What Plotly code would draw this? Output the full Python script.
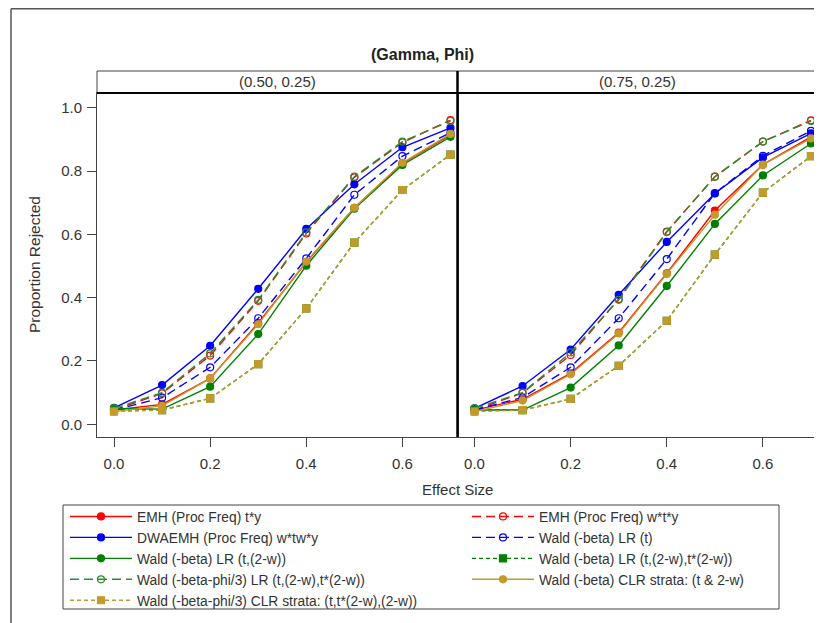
import plotly.graph_objects as go

# ---------------- data ----------------
effect_size = [0.0, 0.1, 0.2, 0.3, 0.4, 0.5, 0.6, 0.7]
panel_labels = ["(0.50, 0.25)", "(0.75, 0.25)"]
y_ticks = [0.0, 0.2, 0.4, 0.6, 0.8, 1.0]
x_ticks = [0.0, 0.2, 0.4, 0.6]

series_names = [
    "EMH (Proc Freq) t*y",
    "EMH (Proc Freq) w*t*y",
    "DWAEMH (Proc Freq) w*tw*y",
    "Wald (-beta) LR (t)",
    "Wald (-beta) LR (t,(2-w))",
    "Wald (-beta) LR (t,(2-w),t*(2-w))",
    "Wald (-beta-phi/3) LR (t,(2-w),t*(2-w))",
    "Wald (-beta) CLR strata: (t & 2-w)",
    "Wald (-beta-phi/3) CLR strata: (t,t*(2-w),(2-w))",
]
# legend column of each series (left / right column of the legend box)
legend_column = [1, 2, 1, 2, 1, 2, 1, 2, 1]

# left panel (0.50, 0.25)
emh_ty_L    = [0.045, 0.063, 0.145, 0.320, 0.512, 0.684, 0.824, 0.914]
emh_wty_L   = [0.045, 0.098, 0.217, 0.390, 0.603, 0.780, 0.890, 0.961]
dwaemh_L    = [0.052, 0.124, 0.248, 0.428, 0.617, 0.758, 0.875, 0.936]
wald_t_L    = [0.045, 0.084, 0.180, 0.335, 0.524, 0.725, 0.847, 0.921]
wald_t2w_L  = [0.050, 0.048, 0.119, 0.285, 0.501, 0.681, 0.819, 0.908]
wald_t2wt_L = [0.045, 0.045, 0.082, 0.190, 0.366, 0.574, 0.740, 0.852]
phi_lr_L    = [0.050, 0.100, 0.224, 0.393, 0.606, 0.782, 0.893, 0.958]
clr_L       = [0.040, 0.058, 0.145, 0.316, 0.514, 0.684, 0.826, 0.917]
phi_clr_L   = [0.040, 0.045, 0.082, 0.190, 0.366, 0.574, 0.740, 0.852]

# right panel (0.75, 0.25)
emh_ty_R    = [0.045, 0.079, 0.161, 0.290, 0.477, 0.675, 0.820, 0.908]
emh_wty_R   = [0.045, 0.099, 0.219, 0.396, 0.609, 0.782, 0.893, 0.960]
dwaemh_R    = [0.050, 0.121, 0.236, 0.409, 0.576, 0.729, 0.843, 0.919]
wald_t_R    = [0.045, 0.085, 0.180, 0.335, 0.522, 0.730, 0.848, 0.927]
wald_t2w_R  = [0.045, 0.045, 0.116, 0.249, 0.437, 0.633, 0.786, 0.887]
wald_t2wt_R = [0.045, 0.045, 0.080, 0.185, 0.327, 0.536, 0.732, 0.847]
phi_lr_R    = [0.050, 0.100, 0.227, 0.393, 0.607, 0.782, 0.893, 0.958]
clr_R       = [0.040, 0.075, 0.158, 0.287, 0.475, 0.662, 0.820, 0.903]
phi_clr_R   = [0.040, 0.045, 0.080, 0.185, 0.327, 0.536, 0.732, 0.847]

left_values = [emh_ty_L, emh_wty_L, dwaemh_L, wald_t_L, wald_t2w_L,
               wald_t2wt_L, phi_lr_L, clr_L, phi_clr_L]
right_values = [emh_ty_R, emh_wty_R, dwaemh_R, wald_t_R, wald_t2w_R,
                wald_t2wt_R, phi_lr_R, clr_R, phi_clr_R]

# ---------------- styles ----------------
RED, BLUE, GREEN, GREEN2, GOLD = "#ff0000", "#0000ff", "#008000", "#2e8b2e", "#c49a2c"
LONG = "9px,5px"
SHORT = "4px,3px"
styles = [
    dict(color=RED, dash="solid", symbol="circle"),
    dict(color=RED, dash=LONG, symbol="circle-open"),
    dict(color=BLUE, dash="solid", symbol="circle"),
    dict(color=BLUE, dash=LONG, symbol="circle-open"),
    dict(color=GREEN, dash="solid", symbol="circle"),
    dict(color=GREEN, dash=SHORT, symbol="square"),
    dict(color=GREEN2, dash=LONG, symbol="circle-open"),
    dict(color=GOLD, dash="solid", symbol="circle"),
    dict(color=GOLD, dash=SHORT, symbol="square"),
]

FONT = "Liberation Sans, Arial, sans-serif"
TXT = "#333333"

fig = go.Figure()
for panel, vals_list in enumerate([left_values, right_values]):
    xa = "x" if panel == 0 else "x2"
    ya = "y" if panel == 0 else "y2"
    for name, vals, st, col in zip(series_names, vals_list, styles, legend_column):
        fig.add_trace(go.Scatter(
            x=effect_size, y=vals, name=name, mode="lines+markers",
            xaxis=xa, yaxis=ya, showlegend=(panel == 0),
            legend="legend" if col == 1 else "legend2",
            line=dict(color=st["color"], dash=st["dash"], width=1.4),
            marker=dict(symbol=st["symbol"], size=7, color=st["color"],
                        line=dict(color=st["color"], width=1.2)),
        ))

# geometry: page pixels; the figure sits at page offset (8, 8) due to body margin
OFF = 8
W, H = 822 - OFF, 623 - OFF
L = 97 - OFF
R = W - (818 - OFF)
T = 71 - OFF
B = H - (437 - OFF)
pw, ph = W - L - R, H - T - B
def px_x(p):
    return (p - OFF - L) / pw
def px_y(p):
    return (H - B - (p - OFF)) / ph

ytop = px_y(93)
split = px_x(457.5)

axis_common = dict(showgrid=False, zeroline=False, showline=True, linecolor="#444444",
                   linewidth=1, mirror=True, ticks="outside", ticklen=9,
                   tickcolor="#444444", tickfont=dict(family=FONT, size=15, color=TXT))
xr = [-0.0354, 0.7146]
yr = [-0.0401, 1.0464]

legend_common = dict(orientation="v", xanchor="left", yanchor="top",
                     borderwidth=0, bgcolor="rgba(255,255,255,0)",
                     font=dict(family=FONT, size=13.8, color=TXT),
                     itemwidth=62, traceorder="normal", tracegroupgap=0)

fig.update_layout(
    width=W, height=H,
    margin=dict(l=L, r=R, t=T, b=B, pad=0),
    paper_bgcolor="white", plot_bgcolor="white",
    font=dict(family=FONT, size=15, color=TXT),
    xaxis=dict(domain=[0, split], range=xr, tickvals=x_ticks, tickformat=".1f",
               anchor="y", ticklabelstandoff=4, **axis_common),
    xaxis2=dict(domain=[split, 1], range=xr, tickvals=x_ticks, tickformat=".1f",
                anchor="y2", ticklabelstandoff=4, **axis_common),
    yaxis=dict(domain=[0, ytop], range=yr, tickvals=y_ticks, tickformat=".1f",
               anchor="x", ticklabelstandoff=2, **axis_common),
    yaxis2=dict(domain=[0, ytop], range=yr, tickvals=y_ticks, showticklabels=False,
                anchor="x2", **{**axis_common, "ticks": ""}),
    showlegend=True,
    legend=dict(x=px_x(65), y=px_y(501), **legend_common),
    legend2=dict(x=px_x(467), y=px_y(501), **legend_common),
)

shapes = [
    # header box
    dict(type="rect", xref="paper", yref="paper", x0=0, x1=1, y0=ytop, y1=1,
         line=dict(color="#444444", width=1)),
    # thick header bottom
    dict(type="line", xref="paper", yref="paper", x0=0, x1=1, y0=ytop, y1=ytop,
         line=dict(color="black", width=2)),
    # panel separator
    dict(type="line", xref="paper", yref="paper", x0=split, x1=split, y0=0, y1=1,
         line=dict(color="black", width=2.5)),
    # legend box
    dict(type="rect", xref="paper", yref="paper", x0=px_x(63), x1=px_x(779),
         y0=px_y(609), y1=px_y(505), line=dict(color="#444444", width=1)),
    # outer frame (left & top)
    dict(type="line", xref="paper", yref="paper", x0=px_x(11), x1=px_x(11),
         y0=px_y(8.75), y1=px_y(700), line=dict(color="#555555", width=1.5)),
    dict(type="line", xref="paper", yref="paper", x0=px_x(11), x1=px_x(900),
         y0=px_y(8.75), y1=px_y(8.75), line=dict(color="#555555", width=1.5)),
]
fig.update_layout(shapes=shapes)

annotations = [
    dict(text="<b>(Gamma, Phi)</b>", x=px_x(422), y=px_y(55), xref="paper", yref="paper",
         showarrow=False, font=dict(family=FONT, size=16, color="#222222"),
         xanchor="center", yanchor="middle"),
    dict(text=panel_labels[0], x=split / 2, y=(ytop + 1) / 2, xref="paper", yref="paper",
         showarrow=False, font=dict(family=FONT, size=15, color=TXT),
         xanchor="center", yanchor="middle"),
    dict(text=panel_labels[1], x=(split + 1) / 2, y=(ytop + 1) / 2, xref="paper", yref="paper",
         showarrow=False, font=dict(family=FONT, size=15, color=TXT),
         xanchor="center", yanchor="middle"),
    dict(text="Effect Size", x=px_x(457), y=px_y(489), xref="paper", yref="paper",
         showarrow=False, font=dict(family=FONT, size=15, color=TXT),
         xanchor="center", yanchor="middle"),
    dict(text="Proportion Rejected", x=px_x(34), y=px_y(265), xref="paper", yref="paper",
         showarrow=False, textangle=-90, font=dict(family=FONT, size=15.5, color=TXT),
         xanchor="center", yanchor="middle"),
]
fig.update_layout(annotations=annotations)

fig.write_html("out.html")
